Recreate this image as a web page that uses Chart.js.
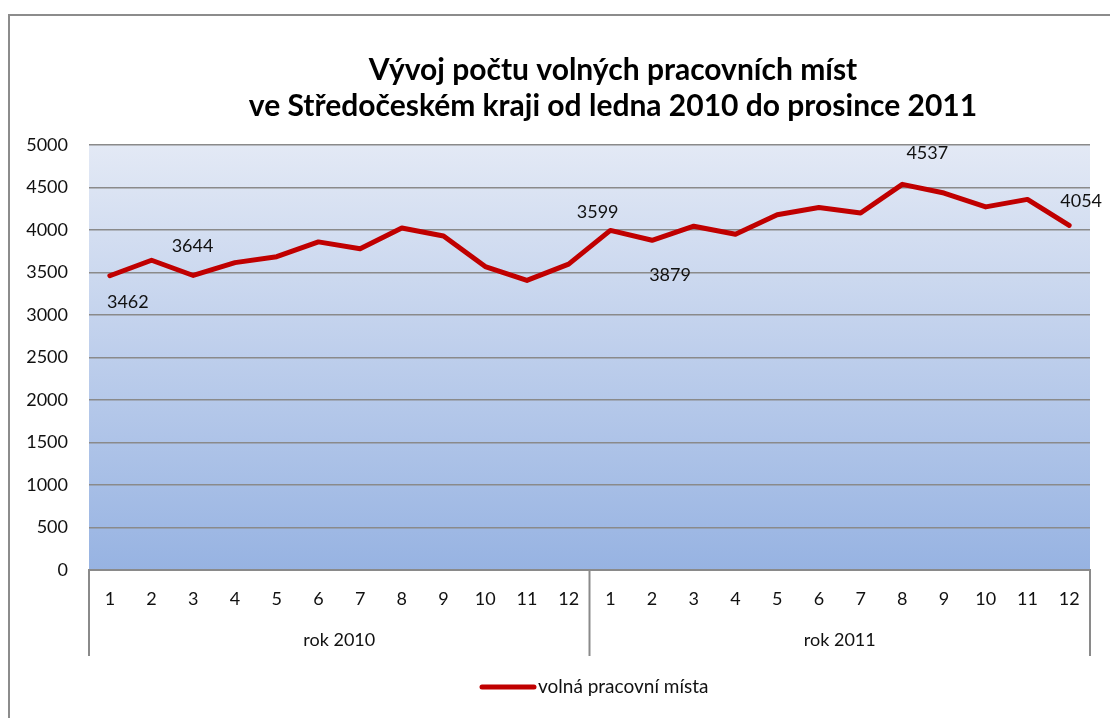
<!DOCTYPE html>
<html>
<head>
<meta charset="utf-8">
<script src="https://cdn.jsdelivr.net/npm/chart.js@4.4.0/dist/chart.umd.min.js"></script>
<style>
  html, body { margin: 0; padding: 0; background: #fff; }
  #wrap { width: 1110px; height: 718px; }
</style>
</head>
<body>
<div id="wrap"><canvas id="chart" width="1110" height="718"></canvas></div>
<script>
// Data
const titleLines = ['Vývoj počtu volných pracovních míst', 've Středočeském kraji od ledna 2010 do prosince 2011'];
const months = ['1', '2', '3', '4', '5', '6', '7', '8', '9', '10', '11', '12',
                '1', '2', '3', '4', '5', '6', '7', '8', '9', '10', '11', '12'];
const years = ['rok 2010', 'rok 2011'];
const vacancies = [3462, 3644, 3465, 3616, 3686, 3860, 3779, 4023, 3930, 3570, 3407, 3599,
                   3995, 3879, 4045, 3950, 4180, 4265, 4200, 4537, 4435, 4272, 4360, 4054];
const seriesName = 'volná pracovní místa';
const yTicks = [0, 500, 1000, 1500, 2000, 2500, 3000, 3500, 4000, 4500, 5000];
const labelledPoints = [0, 1, 11, 13, 19, 23];

const FONT = 'Lato, "Open Sans", sans-serif';
const FS = 18;
const TEXT = '#111';
const GRID = '#8a8a8a';
const RED = '#c00000';

// where each value label sits relative to its point (dx, dy)
const labelOffsets = { 0: [18, 26], 1: [41, -14], 11: [29, -52], 13: [18, 35], 19: [25, -31], 23: [12, -24] };

const decorPlugin = {
  id: 'decor',
  beforeDraw(chart) {
    const { ctx, chartArea: a } = chart;
    ctx.save();
    // outer frame
    ctx.strokeStyle = '#8c8c8c';
    ctx.lineWidth = 2;
    ctx.strokeRect(9, 15, 1300, 900);
    // plot background gradient
    const g = ctx.createLinearGradient(0, a.top, 0, a.bottom);
    g.addColorStop(0, '#e3e9f5');
    g.addColorStop(1, '#97b3e2');
    ctx.fillStyle = g;
    ctx.fillRect(a.left, a.top, a.right - a.left, a.bottom - a.top);
    ctx.restore();
  },
  afterDraw(chart) {
    const { ctx, chartArea: a } = chart;
    const x = chart.scales.x;
    ctx.save();

    // title
    ctx.fillStyle = '#000';
    ctx.font = 'bold 30px ' + FONT;
    ctx.textAlign = 'center';
    ctx.textBaseline = 'middle';
    titleLines.forEach((t, i) => ctx.fillText(t, 613, 70 + i * 36));

    // year groups under the month labels
    ctx.strokeStyle = GRID;
    ctx.lineWidth = 2;
    const bottom = a.bottom + 86;
    const seps = [a.left, (x.getPixelForValue(11) + x.getPixelForValue(12)) / 2, a.right];
    seps.forEach(sx => {
      ctx.beginPath();
      ctx.moveTo(sx, a.bottom);
      ctx.lineTo(sx, bottom);
      ctx.stroke();
    });
    ctx.font = FS + 'px ' + FONT;
    ctx.fillStyle = TEXT;
    years.forEach((y, i) => {
      const cx = (x.getPixelForValue(i * 12) + x.getPixelForValue(i * 12 + 11)) / 2;
      ctx.fillText(y, cx, a.bottom + 70);
    });

    // value labels
    const meta = chart.getDatasetMeta(0);
    labelledPoints.forEach(i => {
      const p = meta.data[i];
      const off = labelOffsets[i];
      ctx.fillText(vacancies[i].toString(), p.x + off[0], p.y + off[1]);
    });

    // legend
    ctx.strokeStyle = RED;
    ctx.lineWidth = 5;
    ctx.lineCap = 'round';
    ctx.beginPath();
    ctx.moveTo(482, 687);
    ctx.lineTo(534, 687);
    ctx.stroke();
    ctx.textAlign = 'left';
    ctx.font = '19px ' + FONT;
    ctx.fillText(seriesName, 538, 687);
    ctx.restore();
  }
};

new Chart(document.getElementById('chart').getContext('2d'), {
  type: 'line',
  data: {
    labels: months,
    datasets: [{
      label: seriesName,
      data: vacancies,
      borderColor: RED,
      backgroundColor: RED,
      borderWidth: 5,
      borderJoinStyle: 'round',
      borderCapStyle: 'round',
      pointRadius: 0,
      tension: 0
    }]
  },
  options: {
    responsive: false,
    animation: false,
    layout: { padding: { top: 145, left: 0, right: 20, bottom: 62 } },
    plugins: {
      legend: { display: false },
      title: { display: false },
      tooltip: { enabled: false }
    },
    scales: {
      y: {
        min: 0,
        max: 5000,
        afterFit: s => { s.width = 89; },
        afterBuildTicks: s => { s.ticks = yTicks.map(v => ({ value: v })); },
        grid: { color: GRID, lineWidth: 1.5, drawTicks: false },
        border: { display: false },
        ticks: {
          color: TEXT,
          font: { family: FONT, size: FS },
          padding: 21,
          callback: v => String(v)
        }
      },
      x: {
        offset: true,
        afterFit: s => { s.height = 86; },
        grid: { display: false, drawTicks: false },
        border: { display: true, color: GRID, width: 2 },
        ticks: {
          color: TEXT,
          font: { family: FONT, size: FS },
          padding: 18,
          autoSkip: false,
          maxRotation: 0,
          callback: (v, i) => months[i]
        }
      }
    }
  },
  plugins: [decorPlugin]
});
</script>
</body>
</html>
